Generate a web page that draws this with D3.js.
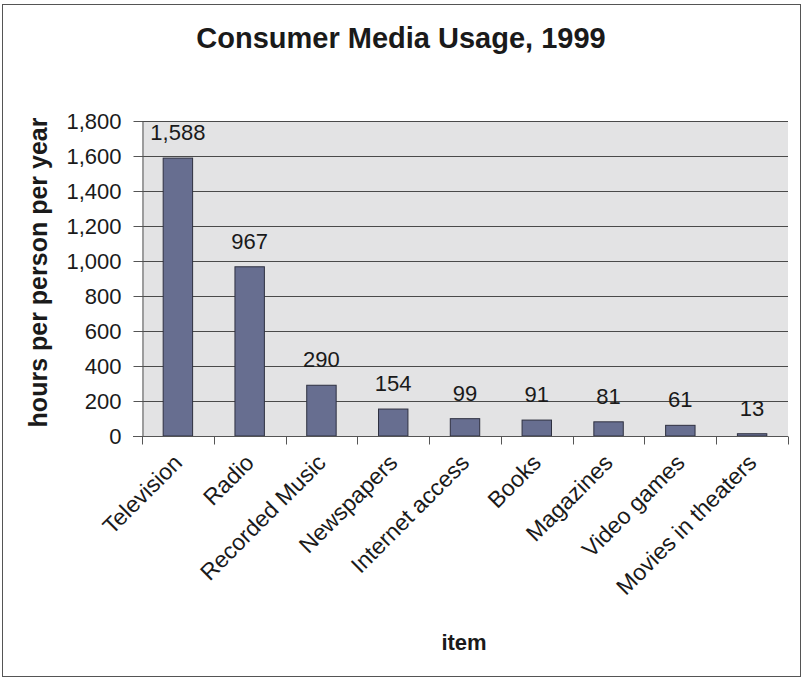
<!DOCTYPE html>
<html>
<head>
<meta charset="utf-8">
<script src="https://cdn.jsdelivr.net/npm/d3@7"></script>
<style>
  body { margin: 0; background: #fff; }
  svg text { font-family: "Liberation Sans", Arial, Helvetica, sans-serif; fill: #1a1a1a; }
</style>
</head>
<body>
<div id="chart"></div>
<script>
let width = 804;
let height = 682;
let margin = ({top: 121, right: 16, bottom: 246, left: 142});

// data
let items = ["Television", "Radio", "Recorded Music", "Newspapers", "Internet access",
  "Books", "Magazines", "Video games", "Movies in theaters"];
let hours = [1588, 967, 290, 154, 99, 91, 81, 61, 13];
let yTicks = [0, 200, 400, 600, 800, 1000, 1200, 1400, 1600, 1800];

let data = items.map((d, i) => ({item: d, value: hours[i]}));

let svg = d3.select("#chart")
    .append("svg")
    .attr("width", width)
    .attr("height", height);

// outer frame
svg.append("rect")
    .attr("x", 2.5).attr("y", 4.5)
    .attr("width", 798).attr("height", 672)
    .attr("fill", "#fff")
    .attr("stroke", "#555")
    .attr("stroke-width", 1);

let xScale = d3.scaleBand()
    .domain(items)
    .range([margin.left, width - margin.right])
    .paddingInner(0.59)
    .paddingOuter(0.295);

// plain band scale, used for the tick marks between categories
let xTickScale = d3.scaleBand()
    .domain(items)
    .range([margin.left, width - margin.right]);

let yScale = d3.scaleLinear()
    .domain([0, 1800])
    .range([height - margin.bottom, margin.top]);

// plot background
svg.append("rect")
    .attr("x", margin.left)
    .attr("y", margin.top)
    .attr("width", width - margin.right - margin.left)
    .attr("height", height - margin.bottom - margin.top)
    .attr("fill", "#e3e3e4");

// gridlines
svg.append("g")
    .selectAll("line")
    .data(yTicks.filter(d => d > 0))
    .join("line")
    .attr("x1", margin.left)
    .attr("x2", width - margin.right)
    .attr("y1", d => Math.round(yScale(d)) + 0.5)
    .attr("y2", d => Math.round(yScale(d)) + 0.5)
    .attr("stroke", "#4a4a4a")
    .attr("stroke-width", 1);

// bars
svg.append("g")
    .selectAll("rect")
    .data(data)
    .join("rect")
    .attr("x", d => xScale(d.item))
    .attr("y", d => yScale(d.value))
    .attr("width", xScale.bandwidth())
    .attr("height", d => yScale(0) - yScale(d.value))
    .attr("fill", "#676e90")
    .attr("stroke", "#2e3040")
    .attr("stroke-width", 1);

// value labels
svg.append("g")
    .selectAll("text")
    .data(data)
    .join("text")
    .attr("x", d => xScale(d.item) + xScale.bandwidth() / 2)
    .attr("y", d => yScale(d.value) - 18)
    .attr("text-anchor", "middle")
    .style("font-size", "22px")
    .text(d => d3.format(",")(d.value));

// y axis
let yAxis = d3.axisLeft(yScale)
    .tickValues(yTicks)
    .tickFormat(d3.format(","))
    .tickSize(9)
    .tickPadding(12)
    .tickSizeOuter(0);

let yG = svg.append("g")
    .attr("transform", "translate(" + (margin.left + 0.5) + ",0)")
    .call(yAxis);
yG.selectAll("path, line").attr("stroke", "#555");
yG.selectAll("text").style("font-size", "22px").attr("dy", "0.36em");

// x axis (ticks at category boundaries)
let xG = svg.append("g")
    .attr("transform", "translate(0," + (height - margin.bottom + 0.5) + ")");
xG.append("line")
    .attr("x1", margin.left - 9)
    .attr("x2", width - margin.right)
    .attr("stroke", "#555");
xG.selectAll(".tick")
    .data(items.concat(["end"]))
    .join("line")
    .attr("class", "tick")
    .attr("x1", (d, i) => Math.round(i < items.length ? xTickScale(d) : width - margin.right) + 0.5)
    .attr("x2", (d, i) => Math.round(i < items.length ? xTickScale(d) : width - margin.right) + 0.5)
    .attr("y1", 0)
    .attr("y2", 8)
    .attr("stroke", "#555");

xG.selectAll("text")
    .data(items)
    .join("text")
    .attr("transform", d => "translate(" + (xScale(d) + xScale.bandwidth() / 2) + ",22) rotate(-45)")
    .attr("text-anchor", "end")
    .attr("dy", "0.35em")
    .style("font-size", "23px")
    .text(d => d);

// titles
svg.append("text")
    .attr("x", 401)
    .attr("y", 48)
    .attr("text-anchor", "middle")
    .style("font-size", "29px")
    .style("font-weight", "bold")
    .text("Consumer Media Usage, 1999");

svg.append("text")
    .attr("transform", "translate(47," + ((margin.top + height - margin.bottom) / 2 - 6) + ") rotate(-90)")
    .attr("text-anchor", "middle")
    .style("font-size", "25px")
    .style("font-weight", "bold")
    .text("hours per person per year");

svg.append("text")
    .attr("x", 464)
    .attr("y", 650)
    .attr("text-anchor", "middle")
    .style("font-size", "22px")
    .style("font-weight", "bold")
    .text("item");
</script>
</body>
</html>
